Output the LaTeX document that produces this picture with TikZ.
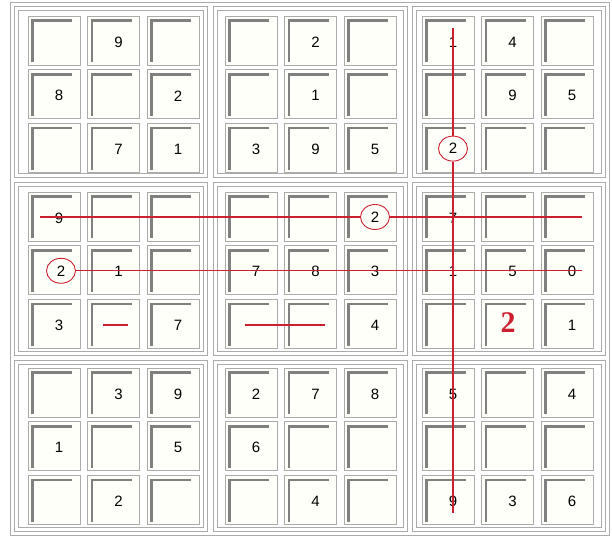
\documentclass[tikz,border=0pt]{standalone}
\usepackage{fontspec}
\setmainfont{Liberation Sans}
\newfontfamily\boldserif{Liberation Serif}
\usetikzlibrary{shapes.geometric}

\definecolor{framegray}{HTML}{ABABAB}
\definecolor{shadegray}{HTML}{808080}
\definecolor{cellfill}{HTML}{FFFFFA}
\definecolor{markred}{HTML}{CC2030}

\tikzset{
  boxframe/.style={draw=framegray, line width=0.8pt},
  cellbox/.style={draw=framegray, fill=cellfill, line width=0.9pt},
  cellshade/.style={draw=shadegray, line width=2.6pt},
  digit/.style={font=\fontsize{15}{15}\selectfont, inner sep=0pt},
  ring/.style={ellipse, draw=markred, line width=0.9pt, minimum width=29pt, minimum height=25pt, inner sep=0pt, font=\fontsize{15}{15}\selectfont},
  markline/.style={draw=markred, line width=1.3pt},
}

\begin{document}
\begin{tikzpicture}[x=1pt, y=-1pt]
    \useasboundingbox (0,0) rectangle (612,537);
    % Outer frame
    \draw[boxframe] (10,2) rectangle (609,535);
    % Boxes (double frame)
    \foreach \xa/\xb in {14/207, 213/407, 412/605}
      \foreach \ya/\yb in {6/177, 182/355, 360/531} {
        \draw[boxframe] (\xa,\ya) rectangle (\xb,\yb);
        \draw[boxframe] (\xa+4,\ya+4) rectangle (\xb-4,\yb-4);
      }
    % Cells
    \foreach \r in {0,...,8}
      \foreach \c in {0,...,8} {
        \pgfmathsetmacro\cx{28+197*int(\c/3)+59.5*mod(\c,3)}
        \pgfmathsetmacro\cy{16+176*int(\r/3)+53.8*mod(\r,3)}
        \draw[cellbox] (\cx,\cy) rectangle ++(52,49);
        \draw[cellshade] (\cx+4.5,\cy+46) -- (\cx+4.5,\cy+4.5) -- (\cx+44,\cy+4.5);
      }
    % Given digits
    \foreach \r/\c/\v in {0/1/9, 0/4/2, 0/6/1, 0/7/4,
                          1/0/8, 1/2/2, 1/4/1, 1/7/9, 1/8/5,
                          2/1/7, 2/2/1, 2/3/3, 2/4/9, 2/5/5,
                          3/0/9, 3/6/7,
                          4/1/1, 4/3/7, 4/4/8, 4/5/3, 4/6/1, 4/7/5, 4/8/0,
                          5/0/3, 5/2/7, 5/5/4, 5/8/1,
                          6/1/3, 6/2/9, 6/3/2, 6/4/7, 6/5/8, 6/6/5, 6/8/4,
                          7/0/1, 7/2/5, 7/3/6,
                          8/1/2, 8/4/4, 8/6/9, 8/7/3, 8/8/6} {
        \pgfmathsetmacro\dx{28+197*int(\c/3)+59.5*mod(\c,3)+31}
        \pgfmathsetmacro\dy{16+176*int(\r/3)+53.8*mod(\r,3)+26}
        \node[digit] (d\r\c) at (\dx,\dy) {\v};
      }
    % Circled twos
    \node[ring] (c26) at (453,148.6) {2};
    \node[ring] (c35) at (375,217) {2};
    \node[ring] (c40) at (61,270.8) {2};
    % Red lines
    \coordinate (vtop) at (453,28);
    \coordinate (vbot) at (453,513);
    \draw[markline] (vtop) -- (c26);
    \draw[markline] (c26) -- (vbot);
    \coordinate (h3a) at (40,217);
    \coordinate (h3b) at (582,217);
    \draw[markline] (h3a) -- (c35);
    \draw[markline] (c35) -- (h3b);
    \coordinate (h4b) at (582,270.8);
    \draw[markline] (c40) -- (h4b);
    % Dashes in row 6
    \coordinate (dash1a) at (103,325);
    \coordinate (dash1b) at (128,325);
    \draw[markline] (dash1a) -- (dash1b);
    \coordinate (dash2a) at (245,325);
    \coordinate (dash2b) at (325,325);
    \draw[markline] (dash2a) -- (dash2b);
    % Found two
    \node[text=markred, font=\boldserif\bfseries\fontsize{30}{30}\selectfont, inner sep=0pt] (found) at (508,323) {2};
\end{tikzpicture}
\end{document}
